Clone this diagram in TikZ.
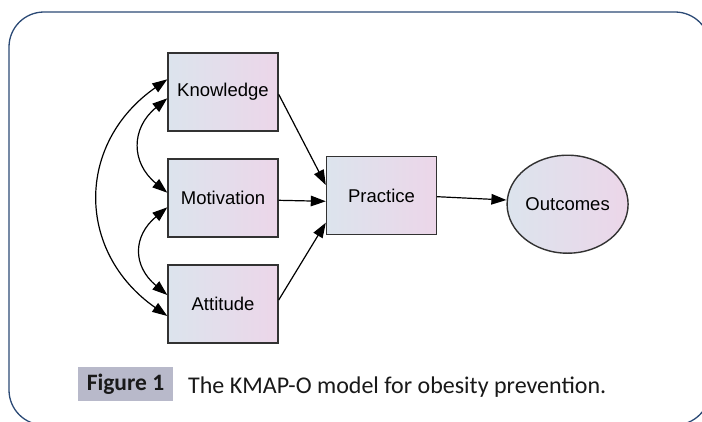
\documentclass[tikz,border=0pt]{standalone}
\usepackage{fontspec}
\setmainfont{Liberation Sans}
\newfontfamily\capfont{Carlito}
\usetikzlibrary{arrows.meta,shapes.geometric}
\definecolor{frameblue}{RGB}{44,74,118}
\definecolor{boxleft}{RGB}{220,228,237}
\definecolor{boxright}{RGB}{236,214,233}
\definecolor{capgray}{RGB}{184,185,202}
\definecolor{boxline}{RGB}{50,50,50}
\tikzset{
  var/.style={draw=boxline, line width=1.4pt, left color=boxleft, right color=boxright,
    minimum width=110pt, minimum height=78pt, inner sep=0pt, font=\fontsize{18.5}{20}\selectfont},
  latent/.style={ellipse, draw=boxline, line width=1.4pt, left color=boxleft, right color=boxright,
    minimum width=121pt, minimum height=98pt, inner sep=0pt, font=\fontsize{18.5}{20}\selectfont},
  path/.style={line width=1.2pt, -{Triangle[length=15pt,width=10.5pt]}},
  cov/.style={line width=1.2pt, {Triangle[length=15pt,width=10.5pt]}-{Triangle[length=15pt,width=10.5pt]}},
}
\begin{document}
\begin{tikzpicture}[x=1pt,y=-1pt]
\useasboundingbox (0,0) rectangle (702,421);
\clip (0,0) rectangle (702,421);
\fill[white] (0,0) rectangle (702,421);
\draw[frameblue, line width=1.3pt, rounded corners=35pt] (9,12) rectangle (710,425);

\node[var] (K) at (223,92) {Knowledge};
\node[var] (M) at (223,198) {Motivation};
\node[var] (A) at (223,304) {Attitude};
\node[var] (P) at (381.5,195.5) {Practice};
\node[latent] (O) at (567.6,204.2) {Outcomes};

\draw[path] (K.east |- 0,94.3) -- (P.west |- 0,185);
\draw[path] (M.east |- 0,200.3) -- (P.west |- 0,201.3);
\draw[path] (A.east |- 0,300) -- (P.west |- 0,222.7);
\draw[path] (P.east |- 0,196.7) -- (O.west |- 0,200);

\draw[cov] (K.west |- 0,79.3) .. controls +(-91.5,64) and +(-91.5,-64) .. (A.west |- 0,316);
\draw[cov] (K.west |- 0,98.3) .. controls +(-36.5,30) and +(-36.5,-30) .. (M.west |- 0,192.7);
\draw[cov] (M.west |- 0,207.3) .. controls +(-34.7,29) and +(-34.7,-29) .. (A.west |- 0,295);

\node[fill=capgray, minimum width=95pt, minimum height=34pt, inner sep=0pt,
  font=\capfont\bfseries\fontsize{23.5}{26}\selectfont, text=black!90] (F) at (125.5,384) {Figure 1};
\node[anchor=base west, inner sep=0pt, font=\capfont\fontsize{24}{27}\selectfont, text=black!90]
  (C) at (188,393) {The KMAP-O model for obesity prevention.};
\end{tikzpicture}
\end{document}
